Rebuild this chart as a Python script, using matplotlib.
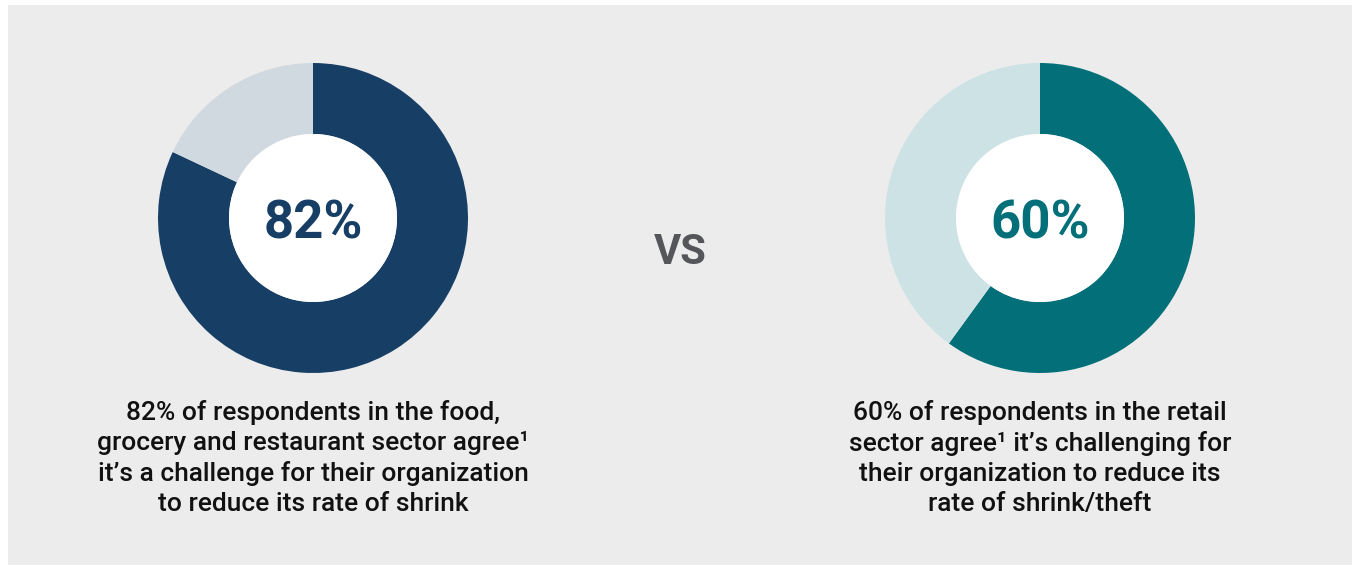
import matplotlib.pyplot as plt
from matplotlib.patches import Rectangle, Circle

plt.rcParams['font.family'] = ['Roboto', 'DejaVu Sans']

# share of respondents agreeing, per sector
sectors = ['food', 'retail']
agree_pct = [82, 60]
labels = ['82%', '60%']
captions = [
    '82% of respondents in the food,\ngrocery and restaurant sector agree\u00b9\n'
    'it\u2019s a challenge for their organization\nto reduce its rate of shrink',
    '60% of respondents in the retail\nsector agree\u00b9 it\u2019s challenging for\n'
    'their organization to reduce its\nrate of shrink/theft',
]
main_colors = ['#173f66', '#036f79']
rest_colors = ['#d1d9e0', '#cce2e5']

W, H = 1353, 567
fig = plt.figure(figsize=(W / 100, H / 100), dpi=100)
fig.patch.set_facecolor('white')
ax = fig.add_axes([0, 0, 1, 1])
ax.set_axis_off()

# grey panel behind everything
ax.add_patch(Rectangle((8, 2), 1344, 560, facecolor='#ececec', edgecolor='none', zorder=0))

centers_x = [313, 1040]
center_y = H - 218
outer_r, ring_w = 155, 71
for i, pct in enumerate(agree_pct):
    ax.pie([pct, 100 - pct], colors=[main_colors[i], rest_colors[i]],
           startangle=90, counterclock=False, radius=outer_r,
           center=(centers_x[i], center_y),
           wedgeprops=dict(width=ring_w, edgecolor='none'))
    ax.add_patch(Circle((centers_x[i], center_y), outer_r - ring_w,
                        facecolor='white', edgecolor='none', zorder=2))
    ax.text(centers_x[i], H - 224, labels[i], ha='center', va='center',
            fontsize=38, fontweight='bold', color=main_colors[i], zorder=3)
    ax.text(centers_x[i], H - 458, captions[i], ha='center', va='center',
            fontsize=19, fontweight='medium', color='#111111', linespacing=1.32)

ax.text(680, H - 252, 'VS', ha='center', va='center', fontsize=30,
        fontweight='bold', color='#54565a')

ax.set_xlim(0, W)
ax.set_ylim(0, H)
ax.set_aspect('auto')
fig.savefig('out.png', dpi=100, facecolor='white')
